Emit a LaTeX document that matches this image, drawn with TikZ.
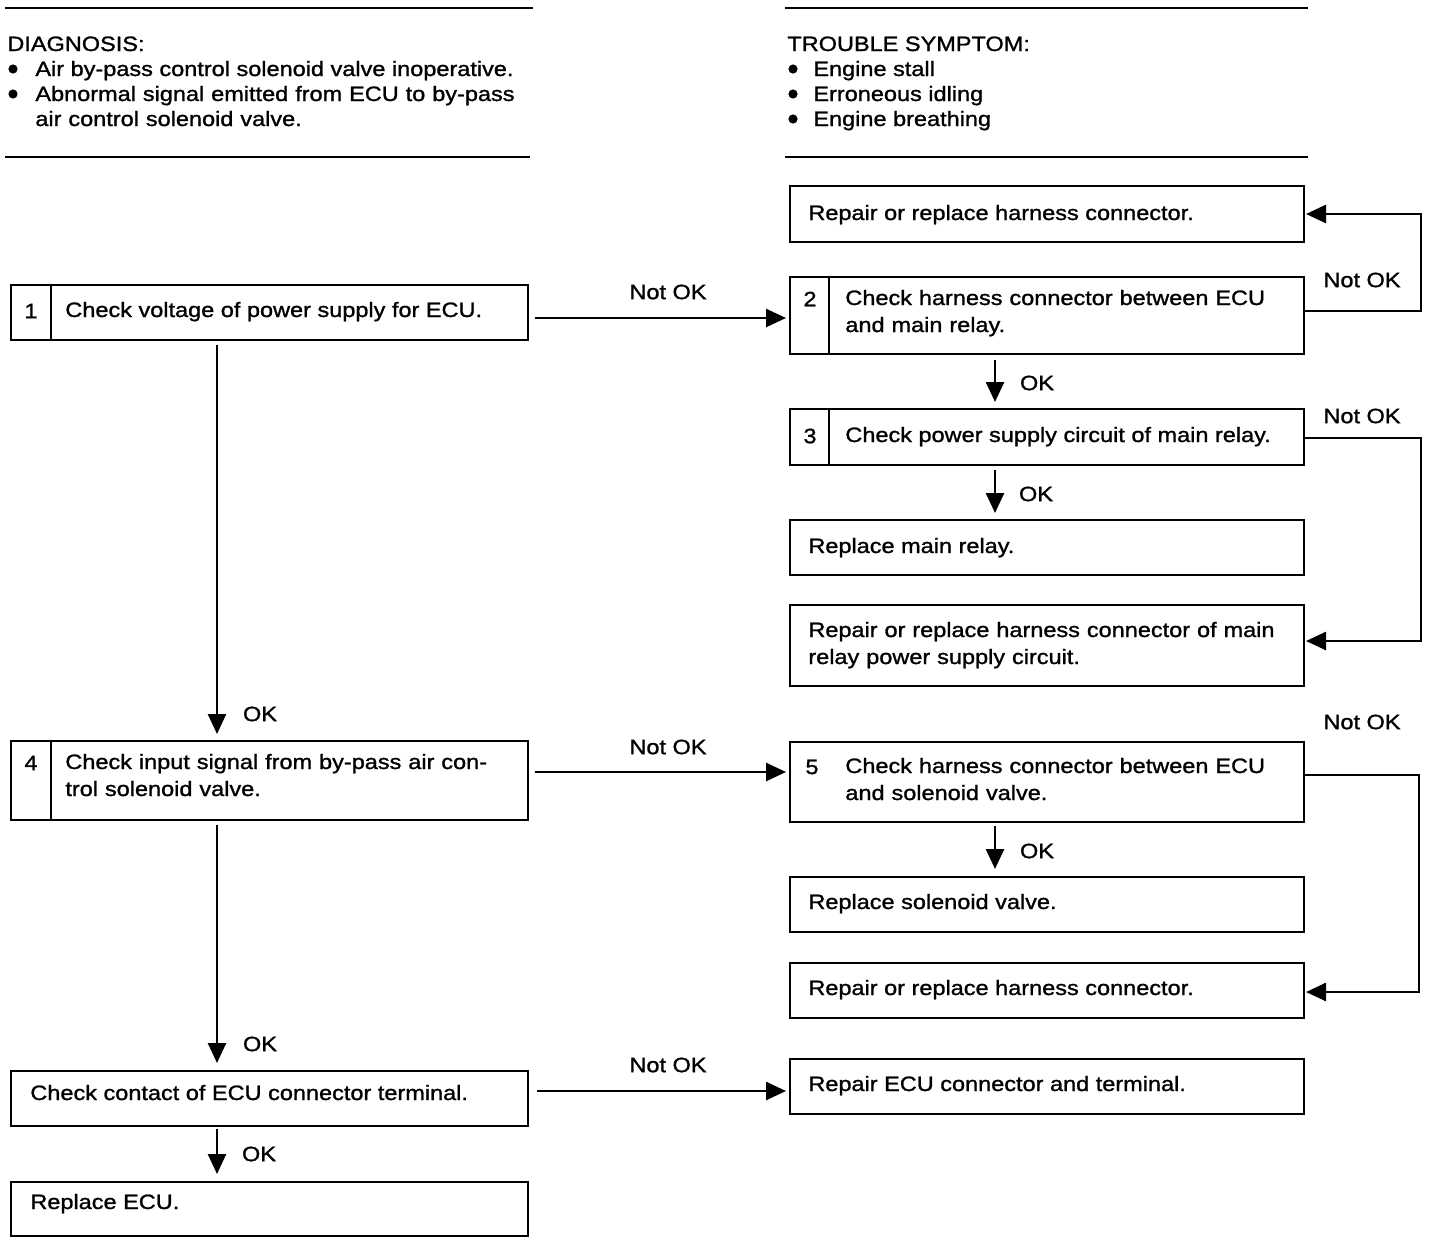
\documentclass[tikz,border=0pt]{standalone}
\usepackage{fontspec}
\setmainfont{Liberation Sans}[FakeStretch=1.13,FakeBold=1.2]
\usetikzlibrary{arrows.meta,calc}
\begin{document}
\begin{tikzpicture}[x=0.5pt,y=-0.5pt,
  box/.style={draw,line width=1.1pt,rectangle,inner sep=0pt,outer sep=0pt},
  lbox/.style={box,minimum width=258.5pt},
  rbox/.style={box,minimum width=257pt},
  sep/.style={line width=1pt},
  txt/.style={anchor=base west,inner sep=0pt,font=\fontsize{10.4}{13.5}\selectfont},
  mtxt/.style={txt,text width=240pt,align=left},
  lab/.style={inner sep=0pt,font=\fontsize{10.4}{13.5}\selectfont},
  arr/.style={line width=1.3pt,-{Triangle[length=10pt,width=9pt]}},
  rulel/.style={line width=1.1pt},
  bul/.style={circle,fill,inner sep=0pt,minimum size=4.6pt}]
\useasboundingbox (0,0) rectangle (1440,1242);

% header rules
\draw[rulel] (5,8) -- (533,8);
\draw[rulel] (5,157) -- (530,157);
\draw[rulel] (785,8) -- (1308,8);
\draw[rulel] (785,157) -- (1308,157);

% diagnosis
\node[txt] (diag) at (7,51) {DIAGNOSIS:};
\node[bul] (db1) at (13,69) {};
\node[txt] (d1) at (35,76) {Air by-pass control solenoid valve inoperative.};
\node[bul] (db2) at (13,94) {};
\node[mtxt] (d2) at (35,101) {Abnormal signal emitted from ECU to by-pass\\[-1pt]air control solenoid valve.};

% trouble symptom
\node[txt] (ts) at (787,51) {TROUBLE SYMPTOM:};
\node[bul] (tb1) at (793,69) {};
\node[txt] (t1) at (813,76) {Engine stall};
\node[bul] (tb2) at (793,94) {};
\node[txt] (t2) at (813,101) {Erroneous idling};
\node[bul] (tb3) at (793,119) {};
\node[txt] (t3) at (813,126) {Engine breathing};

% left column boxes
\node[lbox,minimum height=27.5pt] (b1) at (269.5,312.5) {};
\draw[sep] (51,285) -- (51,340);
\node[lab] (n1) at (31,311) {1};
\node[txt] (b1t) at (65,317) {Check voltage of power supply for ECU.};

\node[lbox,minimum height=39.5pt] (b4) at (269.5,780.5) {};
\draw[sep] (51,741) -- (51,820);
\node[lab] (n4) at (31,763) {4};
\node[mtxt] (b4t) at (65,769) {Check input signal from by-pass air con-\\trol solenoid valve.};

\node[lbox,minimum height=27.5pt] (b6) at (269.5,1098.5) {};
\node[txt] (b6t) at (30,1100) {Check contact of ECU connector terminal.};

\node[lbox,minimum height=27pt] (b7) at (269.5,1209) {};
\node[txt] (b7t) at (30,1209) {Replace ECU.};

% right column boxes
\node[rbox,minimum height=28pt] (r1) at (1047,214) {};
\node[txt] (r1t) at (808,220) {Repair or replace harness connector.};

\node[rbox,minimum height=38.5pt] (b2) at (1047,315.5) {};
\draw[sep] (829,277) -- (829,354);
\node[lab] (n2) at (810,299) {2};
\node[mtxt] (b2t) at (845,305) {Check harness connector between ECU\\and main relay.};

\node[rbox,minimum height=28pt] (b3) at (1047,437) {};
\draw[sep] (829,409) -- (829,465);
\node[lab] (n3) at (810,436) {3};
\node[txt] (b3t) at (845,442) {Check power supply circuit of main relay.};

\node[rbox,minimum height=27.5pt] (r2) at (1047,547.5) {};
\node[txt] (r2t) at (808,553) {Replace main relay.};

\node[rbox,minimum height=40.5pt] (r3) at (1047,645.5) {};
\node[mtxt] (r3t) at (808,637) {Repair or replace harness connector of main\\relay power supply circuit.};

\node[rbox,minimum height=40pt] (b5) at (1047,782) {};
\node[lab] (n5) at (812,767) {5};
\node[mtxt] (b5t) at (845,773) {Check harness connector between ECU\\and solenoid valve.};

\node[rbox,minimum height=27.5pt] (r4) at (1047,904.5) {};
\node[txt] (r4t) at (808,909) {Replace solenoid valve.};

\node[rbox,minimum height=27.5pt] (r5) at (1047,990.5) {};
\node[txt] (r5t) at (808,995) {Repair or replace harness connector.};

\node[rbox,minimum height=27.5pt] (r6) at (1047,1086.5) {};
\node[txt] (r6t) at (808,1091) {Repair ECU connector and terminal.};

% Not OK horizontal arrows
\draw[arr] ($(b1.east)+(7,5.5)$) -- ($(b1.east -| b2.west)+(-4,5.5)$);
\node[lab] (l1) at (668,292) {Not OK};
\draw[arr] ($(b4.east)+(7,-8.5)$) -- ($(b4.east -| b5.west)+(-4,-8.5)$);
\node[lab] (l2) at (668,747) {Not OK};
\draw[arr] ($(b6.east)+(9,-7.5)$) -- ($(b6.east -| r6.west)+(-4,-7.5)$);
\node[lab] (l3) at (668,1065) {Not OK};

% OK vertical arrows left
\draw[arr] ($(b1.south)+(-52.5,5)$) -- ($(b4.north)+(-52.5,-7)$);
\node[lab] (o1) at (260,714) {OK};
\draw[arr] ($(b4.south)+(-52.5,5)$) -- ($(b6.north)+(-52.5,-8)$);
\node[lab] (o2) at (260,1044) {OK};
\draw[arr] ($(b6.south)+(-52.5,3)$) -- ($(b7.north)+(-52.5,-8)$);
\node[lab] (o3) at (259,1154) {OK};

% OK vertical arrows right
\draw[arr] ($(b2.south)+(-52,6)$) -- ($(b3.north)+(-52,-7)$);
\node[lab] (o4) at (1037,383) {OK};
\draw[arr] ($(b3.south)+(-52,5)$) -- ($(r2.north)+(-52,-7)$);
\node[lab] (o5) at (1036,494) {OK};
\draw[arr] ($(b5.south)+(-52,4)$) -- ($(r4.north)+(-52,-8)$);
\node[lab] (o6) at (1037,851) {OK};

% Not OK loops on the right
\draw[arr] ($(b2.east)+(0,-4.5)$) -- ++(117,0) |- ($(r1.east)+(2,0)$);
\node[lab] (l4) at (1362,280) {Not OK};
\draw[arr] ($(b3.east)+(0,1)$) -- ++(117,0) |- ($(r3.east)+(2,-4.5)$);
\node[lab] (l5) at (1362,416) {Not OK};
\draw[arr] ($(b5.east)+(0,-7)$) -- ++(115,0) |- ($(r5.east)+(2,1.5)$);
\node[lab] (l6) at (1362,722) {Not OK};
\end{tikzpicture}
\end{document}
